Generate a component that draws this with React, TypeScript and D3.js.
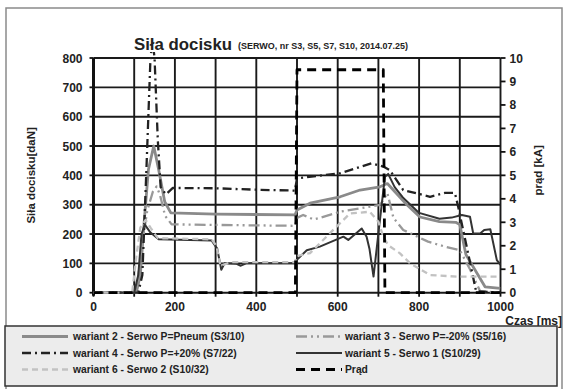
import React from "react";
import * as d3 from "d3";

// czas [ms], siła [daN]
const wariant2 = [
  [0, 0], [105, 0], [115, 60], [125, 250], [135, 420], [148, 500], [160, 420], [175, 310], [190, 272],
  [300, 268], [495, 265], [500, 282], [532, 305], [606, 327], [655, 350], [704, 361], [722, 372],
  [740, 345], [770, 300], [802, 258], [850, 242], [890, 240], [900, 232], [915, 130], [962, 20], [1000, 15],
];
const wariant3 = [
  [0, 0], [105, 0], [118, 150], [132, 280], [146, 345], [155, 362], [163, 335], [176, 262], [192, 233],
  [300, 231], [495, 228], [500, 255], [515, 265], [540, 250], [556, 255], [606, 276], [704, 299],
  [714, 320], [722, 340], [737, 255], [761, 214], [822, 174], [864, 157], [900, 145], [925, 80],
  [950, 5], [1000, 0],
];
const wariant4 = [
  [0, 0], [110, 0], [120, 60], [130, 420], [140, 800], [145, 860], [150, 800], [158, 520], [165, 360],
  [178, 335], [195, 357], [300, 356], [400, 351], [495, 348], [500, 390], [606, 407], [683, 441],
  [712, 430], [728, 418], [761, 350], [827, 327], [864, 340], [888, 340], [896, 293], [918, 150],
  [940, 5], [1000, 0],
];
const wariant5 = [
  [0, 0], [100, 0], [110, 60], [118, 200], [126, 232], [140, 205], [160, 182], [290, 178], [304, 150],
  [314, 78], [322, 100], [350, 99], [362, 92], [375, 100], [495, 100], [499, 111], [524, 145],
  [556, 157], [614, 191], [626, 180], [659, 219], [671, 191], [678, 150], [688, 55], [700, 202],
  [716, 395], [724, 405], [740, 360], [760, 325], [800, 272], [850, 252], [880, 256], [905, 265],
  [925, 259], [933, 202], [950, 202], [960, 214], [975, 216], [991, 111], [1000, 95],
];
const wariant6 = [
  [0, 0], [95, 0], [105, 120], [115, 222], [128, 248], [140, 222], [158, 186], [290, 182], [302, 160],
  [312, 92], [320, 96], [340, 104], [495, 104], [499, 125], [532, 135], [589, 214], [630, 270],
  [679, 276], [700, 242], [712, 191], [724, 162], [753, 134], [778, 100], [827, 60], [892, 55],
  [1000, 55],
];
// prąd [kA]
const prad = [
  [0, 0], [496, 0], [500, 9.5], [712, 9.5], [716, 0], [1000, 0],
];

const xTicks = [0, 200, 400, 600, 800, 1000];
const xGrid = [0, 100, 200, 300, 400, 500, 600, 700, 800, 900, 1000];
const yLeftTicks = [0, 100, 200, 300, 400, 500, 600, 700, 800];
const yRightTicks = [0, 1, 2, 3, 4, 5, 6, 7, 8, 9, 10];

const series = [
  { name: "wariant 2 - Serwo P=Pneum (S3/10)", data: wariant2, color: "#8a8a8a", width: 2.8, dash: "", axis: "L" },
  { name: "wariant 3 - Serwo P=-20% (S5/16)", data: wariant3, color: "#999", width: 2.3, dash: "11,4,2,4,2,4", axis: "L" },
  { name: "wariant 4 - Serwo P=+20% (S7/22)", data: wariant4, color: "#222", width: 2.3, dash: "9,4,2,4", axis: "L" },
  { name: "wariant 5 - Serwo 1 (S10/29)", data: wariant5, color: "#333", width: 2, dash: "", axis: "L" },
  { name: "wariant 6 - Serwo 2 (S10/32)", data: wariant6, color: "#c2c2c2", width: 2.3, dash: "6,4", axis: "L" },
  { name: "Prąd", data: prad, color: "#000", width: 2.8, dash: "9,6", axis: "R" },
];

const FONT = "'Liberation Sans', Arial, sans-serif";

export default function App() {
  const left = 93.5, right = 500.5, top = 58, bottom = 292.7;
  const x = d3.scaleLinear().domain([0, 1000]).range([left, right]);
  const yL = d3.scaleLinear().domain([0, 800]).range([bottom, top]);
  const yR = d3.scaleLinear().domain([0, 10]).range([bottom, top]);

  const lineFor = (axis: string) =>
    d3.line<number[]>().x((d) => x(d[0])).y((d) => (axis === "R" ? yR(d[1]) : yL(d[1])));

  return (
    <svg width={566} height={389} style={{ position: "absolute", left: 0, top: 0, fontFamily: FONT }}>
      <rect x={0} y={0} width={566} height={389} fill="#fff" />
      <rect x={6} y={8} width={556} height={383} fill="#fff" stroke="#8a8a8a" strokeWidth={1.5} />

      <text x={134} y={50} fontSize={16.5} fontWeight="bold" fill="#222" textLength={98} lengthAdjust="spacingAndGlyphs">Siła docisku</text>
      <text x={238} y={49} fontSize={9} fontWeight="bold" fill="#222" textLength={170} lengthAdjust="spacingAndGlyphs">(SERWO, nr S3, S5, S7, S10, 2014.07.25)</text>

      <defs>
        <clipPath id="plot">
          <rect x={left} y={top - 6} width={right - left} height={bottom - top + 8} />
        </clipPath>
      </defs>

      {/* grid */}
      {xGrid.map((t) => (
        <line key={"gx" + t} x1={x(t)} x2={x(t)} y1={top} y2={bottom} stroke="#1a1a1a" strokeWidth={1.9} />
      ))}
      {yLeftTicks.map((v) => (
        <line key={"gy" + v} x1={left} x2={right} y1={yL(v)} y2={yL(v)} stroke="#1a1a1a" strokeWidth={1.9} />
      ))}
      <line x1={left} x2={left} y1={top} y2={bottom + 3} stroke="#111" strokeWidth={3} />

      {/* ticks */}
      {yLeftTicks.map((v) => (
        <g key={"ly" + v}>
          <line x1={left - 4} x2={left} y1={yL(v)} y2={yL(v)} stroke="#111" strokeWidth={1.8} />
          <text x={left - 11} y={yL(v) + 4.5} textAnchor="end" fontSize={12} fontWeight="bold" fill="#222">{v}</text>
        </g>
      ))}
      {yRightTicks.map((v) => (
        <g key={"ry" + v}>
          <line x1={right} x2={right + 5} y1={yR(v)} y2={yR(v)} stroke="#111" strokeWidth={1.8} />
          <text x={right + 9} y={yR(v) + 4.5} fontSize={12} fontWeight="bold" fill="#222">{v}</text>
        </g>
      ))}
      {xGrid.map((t) => (
        <line key={"tx" + t} x1={x(t)} x2={x(t)} y1={bottom} y2={bottom + 4} stroke="#111" strokeWidth={1.8} />
      ))}
      {xTicks.map((t) => (
        <text key={"lx" + t} x={x(t)} y={bottom + 18} textAnchor="middle" fontSize={12} fontWeight="bold" fill="#222">{t}</text>
      ))}

      <text transform={`translate(35,${(top + bottom) / 2}) rotate(-90)`} textAnchor="middle" fontSize={11.5} fontWeight="bold" fill="#222">
        Siła docisku[daN]
      </text>
      <text transform={`translate(542,${(top + bottom) / 2 - 5}) rotate(-90)`} textAnchor="middle" fontSize={11.5} fontWeight="bold" fill="#222">
        prąd [kA]
      </text>
      <text x={562} y={324.5} textAnchor="end" fontSize={12} fontWeight="bold" fill="#222">Czas [ms]</text>

      {/* series */}
      <g clipPath="url(#plot)">
        {series.map((s) => (
          <path key={s.name} d={lineFor(s.axis)(s.data as number[][]) || ""} fill="none" stroke={s.color}
            strokeWidth={s.width} strokeDasharray={s.dash} strokeLinejoin="round" />
        ))}
      </g>

      {/* legend */}
      <rect x={5} y={326} width={552} height={60} fill="#ececec" stroke="#333" strokeWidth={1.5} />
      {series.map((s, i) => {
        const col = i % 2;
        const row = Math.floor(i / 2);
        const ly = 336.5 + row * 16.5;
        const sx = col === 0 ? 22 : 296;
        const tx = col === 0 ? 73 : 345;
        return (
          <g key={"lg" + i}>
            <line x1={sx} x2={sx + 46} y1={ly} y2={ly} stroke={s.color} strokeWidth={s.width} strokeDasharray={s.dash} />
            <text x={tx} y={ly + 3.5} fontSize={10.3} fontWeight="bold" fill="#222">{s.name}</text>
          </g>
        );
      })}
    </svg>
  );
}
